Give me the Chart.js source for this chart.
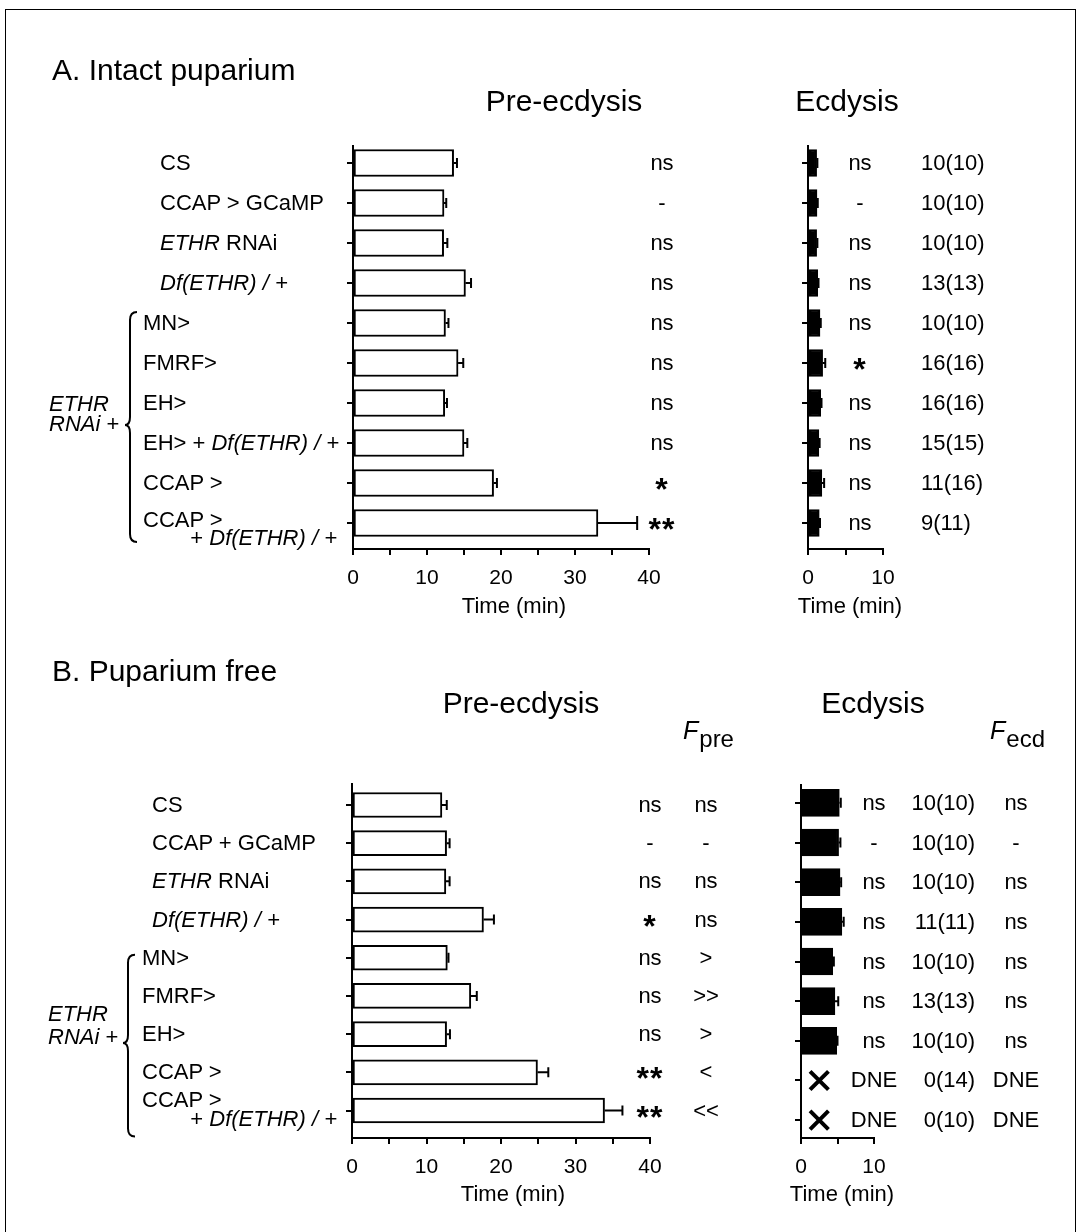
<!DOCTYPE html>
<html>
<head>
<meta charset="utf-8">
<script src="https://cdn.jsdelivr.net/npm/chart.js@4.4.1/dist/chart.umd.min.js"></script>
<style>
  body { margin: 0; background: #fff; }
  #page { position: relative; width: 1080px; height: 1232px; overflow: hidden;
          font-family: Arial, "Liberation Sans", Helvetica, sans-serif; color: #000; }
  #frame { position: absolute; left: 5px; top: 9px; width: 1069px; height: 1300px; border: 1px solid #000; }
  canvas { position: absolute; }
  .t { position: absolute; white-space: nowrap; line-height: 1; font-size: 22px; }
  .h { font-size: 30px; }
  .star { font-size: 32px; font-weight: bold; letter-spacing: 1px; }
  .fh { font-size: 25px; }
  .sub { font-size: 24px; position: relative; top: 8px; margin-left: 1px; }
  svg { position: absolute; left: 0; top: 0; }
</style>
</head>
<body>
<div id="page">
  <div id="frame"></div>
  <canvas id="preA"></canvas>
  <canvas id="ecdA"></canvas>
  <canvas id="preB"></canvas>
  <canvas id="ecdB"></canvas>
  <svg id="marks" width="1080" height="1232"></svg>
</div>
<script>
// genotypes (underscores mark italic parts, \n splits a label over two lines)
var genotypesA = ['CS', 'CCAP > GCaMP', '_ETHR_ RNAi', '_Df(ETHR) / +_', 'MN>', 'FMRF>', 'EH>',
                  'EH> + _Df(ETHR) / +_', 'CCAP >', 'CCAP >\n+ _Df(ETHR) / +_'];
var genotypesB = ['CS', 'CCAP + GCaMP', '_ETHR_ RNAi', '_Df(ETHR) / +_', 'MN>', 'FMRF>', 'EH>',
                  'CCAP >', 'CCAP >\n+ _Df(ETHR) / +_'];

// A. intact puparium, time in min
var preA    = [13.6, 12.3, 12.25, 15.2, 12.5, 14.2, 12.4, 15.0, 19.0, 33.1];
var preAErr = [0.45, 0.3, 0.5, 0.75, 0.4, 0.7, 0.3, 0.45, 0.45, 5.3];
var ecdA    = [1.15, 1.2, 1.15, 1.3, 1.6, 1.95, 1.7, 1.45, 1.85, 1.5];
var ecdAErr = [0.1, 0.1, 0.1, 0.1, 0.1, 0.35, 0.1, 0.1, 0.3, 0.1];
var sigPreA = ['ns', '-', 'ns', 'ns', 'ns', 'ns', 'ns', 'ns', '*', '**'];
var sigEcdA = ['ns', '-', 'ns', 'ns', 'ns', '*', 'ns', 'ns', 'ns', 'ns'];
var nA      = ['10(10)', '10(10)', '10(10)', '13(13)', '10(10)', '16(16)', '16(16)', '15(15)', '11(16)', '9(11)'];

// B. puparium free
var preB    = [12.07, 12.7, 12.6, 17.65, 12.8, 15.95, 12.7, 24.9, 33.9];
var preBErr = [0.65, 0.4, 0.5, 1.4, 0.15, 0.8, 0.45, 1.45, 2.4];
var ecdB    = [5.25, 5.15, 5.35, 5.6, 4.35, 4.65, 4.9, null, null];
var ecdBErr = [0.2, 0.25, 0.15, 0.25, 0.15, 0.45, 0.1, 0, 0];
var sigPreB = ['ns', '-', 'ns', '*', 'ns', 'ns', 'ns', '**', '**'];
var fPreB   = ['ns', '-', 'ns', 'ns', '>', '>>', '>', '<', '<<'];
var sigEcdB = ['ns', '-', 'ns', 'ns', 'ns', 'ns', 'ns', 'DNE', 'DNE'];
var nB      = ['10(10)', '10(10)', '10(10)', '11(11)', '10(10)', '13(13)', '10(10)', '0(14)', '0(10)'];
var fEcdB   = ['ns', '-', 'ns', 'ns', 'ns', 'ns', 'ns', 'DNE', 'DNE'];

var preTicks = [0, 10, 20, 30, 40];
var ecdTicks = [0, 10];

var FONT = 'Arial, "Liberation Sans", Helvetica, sans-serif';
var page = document.getElementById('page');

// error bars drawn off the value scale
var errorBars = {
    id: 'errorBars',
    afterDatasetsDraw: function(chart) {
        var ctx = chart.ctx, xs = chart.scales.x, ys = chart.scales.y;
        ctx.save();
        ctx.strokeStyle = '#000';
        ctx.lineWidth = 2;
        chart.data.datasets[0].data.forEach(function(d) {
            if (!d.e) return;
            var x0 = xs.getPixelForValue(d.x), x1 = xs.getPixelForValue(d.x + d.e);
            var y = ys.getPixelForValue(d.y);
            var cap = d.e > 3 ? 7 : 5;
            ctx.beginPath();
            ctx.moveTo(x0, y); ctx.lineTo(x1, y);
            ctx.moveTo(x1, y - cap); ctx.lineTo(x1, y + cap);
            ctx.stroke();
        });
        ctx.restore();
    }
};

function makeChart(id, o) {
    var canvas = document.getElementById(id);
    canvas.width = o.box.r - o.box.l + 80;
    canvas.height = o.box.b - o.box.t + 60;
    var datasets = [{
        type: 'bar',
        data: o.values.map(function(v, i) { return v == null ? null : {x: v, y: i, e: o.errors[i]}; })
                      .filter(function(d) { return d; }),
        backgroundColor: o.fill,
        borderColor: '#000',
        borderWidth: 2,
        borderSkipped: false,
        barThickness: o.barPx
    }];
    if (o.markers) {
        datasets.push({
            type: 'scatter',
            data: o.markers,
            pointStyle: 'crossRot',
            pointRadius: 13,
            pointBorderWidth: 4,
            pointBorderColor: '#000',
            pointBackgroundColor: '#000'
        });
    }
    var rows = o.values.map(function(v, i) { return i; });
    var chart = new Chart(canvas, {
        type: 'bar',
        data: {datasets: datasets},
        options: {
            indexAxis: 'y',
            responsive: false,
            maintainAspectRatio: false,
            animation: false,
            devicePixelRatio: 1,
            layout: {padding: {left: 40, right: 30, top: 0, bottom: 0}},
            plugins: {legend: {display: false}, tooltip: {enabled: false}},
            scales: {
                x: {
                    type: 'linear', min: 0, max: o.xMax,
                    ticks: {
                        stepSize: 5, autoSkip: false, maxRotation: 0, padding: 11, color: '#000',
                        font: {family: FONT, size: 21},
                        callback: function(v) { return o.tickLabels.indexOf(v) >= 0 ? String(v) : ''; }
                    },
                    grid: {drawOnChartArea: false, offset: false, color: '#000', lineWidth: 2, tickLength: 6},
                    border: {color: '#000', width: 2}
                },
                y: {
                    type: 'linear', reverse: true, offset: false, min: o.yMin, max: o.yMax,
                    afterBuildTicks: function(axis) { axis.ticks = rows.map(function(i) { return {value: i}; }); },
                    ticks: {display: false},
                    grid: {drawOnChartArea: false, offset: false, color: '#000', lineWidth: 2, tickLength: 6},
                    border: {color: '#000', width: 2}
                }
            }
        },
        plugins: [errorBars]
    });
    // fit the plot area onto the target box
    var a = chart.chartArea;
    var dw = (o.box.r - o.box.l) - (a.right - a.left);
    var dh = (o.box.b - o.box.t) - (a.bottom - a.top);
    if (Math.abs(dw) > 0.5 || Math.abs(dh) > 0.5) {
        chart.resize(chart.width + dw, chart.height + dh);
        a = chart.chartArea;
    }
    chart.$left = o.box.l - a.left;
    chart.$top = o.box.t - a.top;
    canvas.style.left = chart.$left + 'px';
    canvas.style.top = chart.$top + 'px';
    return chart;
}

function rowY(chart, i) { return chart.$top + chart.scales.y.getPixelForValue(i); }

function italics(s) { return s.replace(/_([^_]+)_/g, '<i>$1</i>'); }

function txt(html, x, y, align, cls) {
    var d = document.createElement('div');
    d.className = 't' + (cls ? ' ' + cls : '');
    d.innerHTML = html;
    d.style.left = x + 'px';
    d.style.top = y + 'px';
    var tx = align === 'center' ? '-50%' : (align === 'right' ? '-100%' : '0');
    d.style.transform = 'translate(' + tx + ', -50%)';
    page.appendChild(d);
    return d;
}

function sig(s, x, y) {
    if (s.indexOf('*') >= 0) txt(s, x, y + 6, 'center', 'star');
    else txt(s, x, y, 'center');
}

function genotypeLabels(chart, names, xTop, xGroup, xRight, split) {
    names.forEach(function(name, i) {
        var y = rowY(chart, i);
        var x = i < 4 ? xTop : xGroup;
        var lines = name.split('\n');
        if (lines.length === 1) {
            txt(italics(name), x, y, 'left');
        } else {
            txt(italics(lines[0]), x, y + split[0], 'left');
            txt(italics(lines[1]), xRight, y + split[1], 'right');
        }
    });
}

function brace(x, top, mid, bottom) {
    var p = document.createElementNS('http://www.w3.org/2000/svg', 'path');
    p.setAttribute('d', 'M' + (x + 7) + ' ' + top + ' Q' + x + ' ' + top + ' ' + x + ' ' + (top + 8) +
        ' L' + x + ' ' + (mid - 8) + ' Q' + x + ' ' + mid + ' ' + (x - 5) + ' ' + mid +
        ' Q' + x + ' ' + mid + ' ' + x + ' ' + (mid + 8) +
        ' L' + x + ' ' + (bottom - 8) + ' Q' + x + ' ' + bottom + ' ' + (x + 7) + ' ' + bottom);
    p.setAttribute('fill', 'none');
    p.setAttribute('stroke', '#000');
    p.setAttribute('stroke-width', '2');
    document.getElementById('marks').appendChild(p);
}

// ---- panel A ----
var chartPreA = makeChart('preA', {
    values: preA, errors: preAErr, fill: '#fff', barPx: 27, xMax: 40, tickLabels: preTicks,
    yMin: -0.45, yMax: 9.65, box: {l: 353, r: 649, t: 145, b: 549}
});
var chartEcdA = makeChart('ecdA', {
    values: ecdA, errors: ecdAErr, fill: '#000', barPx: 27, xMax: 10, tickLabels: ecdTicks,
    yMin: -0.45, yMax: 9.65, box: {l: 808, r: 883, t: 145, b: 549}
});

// ---- panel B ----
var dneRows = ecdB.map(function(v, i) { return v == null ? i : -1; }).filter(function(i) { return i >= 0; });
var DNE_X = 2.5; // where the "did not ecdyse" cross sits on the time axis
var chartPreB = makeChart('preB', {
    values: preB, errors: preBErr, fill: '#fff', barPx: 25, xMax: 40, tickLabels: preTicks,
    yMin: -0.576, yMax: 8.72, box: {l: 352, r: 650, t: 783, b: 1138}
});
var chartEcdB = makeChart('ecdB', {
    values: ecdB, errors: ecdBErr, fill: '#000', barPx: 27, xMax: 10, tickLabels: ecdTicks,
    yMin: -0.45, yMax: 8.45, box: {l: 801, r: 874, t: 785, b: 1138},
    markers: dneRows.map(function(i) { return {x: DNE_X, y: i}; })
});

// headings
txt('A. Intact puparium', 52, 70, 'left', 'h');
txt('Pre-ecdysis', 564, 101, 'center', 'h');
txt('Ecdysis', 847, 101, 'center', 'h');
txt('B. Puparium free', 52, 671, 'left', 'h');
txt('Pre-ecdysis', 521, 703, 'center', 'h');
txt('Ecdysis', 873, 703, 'center', 'h');
txt('<i>F</i><span class="sub">pre</span>', 683, 730, 'left', 'fh');
txt('<i>F</i><span class="sub">ecd</span>', 990, 730, 'left', 'fh');

// axis titles
txt('Time (min)', 514, 606, 'center');
txt('Time (min)', 850, 606, 'center');
txt('Time (min)', 513, 1194, 'center');
txt('Time (min)', 842, 1194, 'center');

// genotype labels
genotypeLabels(chartPreA, genotypesA, 160, 143, 337, [-3, 15]);
genotypeLabels(chartPreB, genotypesB, 152, 142, 337, [-11, 8]);
txt('<i>ETHR</i>', 49, 404, 'left');
txt('<i>RNAi</i> +', 49, 424, 'left');
txt('<i>ETHR</i>', 48, 1014, 'left');
txt('<i>RNAi</i> +', 48, 1037, 'left');
brace(130, rowY(chartPreA, 4) - 11, 425, rowY(chartPreA, 9) + 19);
brace(128, rowY(chartPreB, 4) - 3, 1043, rowY(chartPreB, 8) + 26);

// statistics and n columns
sigPreA.forEach(function(s, i) { sig(s, 662, rowY(chartPreA, i)); });
sigEcdA.forEach(function(s, i) { sig(s, 860, rowY(chartEcdA, i)); });
nA.forEach(function(s, i) { txt(s, 921, rowY(chartEcdA, i), 'left'); });

sigPreB.forEach(function(s, i) { sig(s, 650, rowY(chartPreB, i)); });
fPreB.forEach(function(s, i) { txt(s, 706, rowY(chartPreB, i), 'center'); });
sigEcdB.forEach(function(s, i) { sig(s, 874, rowY(chartEcdB, i)); });
nB.forEach(function(s, i) { txt(s, 975, rowY(chartEcdB, i), 'right'); });
fEcdB.forEach(function(s, i) { txt(s, 1016, rowY(chartEcdB, i), 'center'); });
</script>
</body>
</html>
